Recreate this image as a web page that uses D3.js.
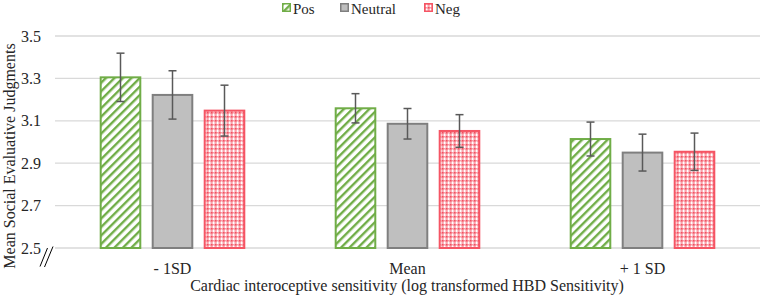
<!DOCTYPE html>
<html>
<head>
<meta charset="utf-8">
<script src="https://cdn.jsdelivr.net/npm/d3@7"></script>
<style>
  body { margin: 0; background: #fff; }
  svg text { font-family: 'Liberation Serif'; }
</style>
</head>
<body>
<div id="chart"></div>
<script>
// values
const categories = ['- 1SD', 'Mean', '+ 1 SD'];
const seriesNames = ['Pos', 'Neutral', 'Neg'];
const posValues = [3.305, 3.159, 3.014];
const posErrors = [0.114, 0.069, 0.080];
const neutralValues = [3.222, 3.086, 2.950];
const neutralErrors = [0.114, 0.072, 0.087];
const negValues = [3.148, 3.052, 2.954];
const negErrors = [0.120, 0.077, 0.088];
const yTicks = [2.5, 2.7, 2.9, 3.1, 3.3, 3.5];

const seriesValues = { Pos: posValues, Neutral: neutralValues, Neg: negValues };
const seriesErrors = { Pos: posErrors, Neutral: neutralErrors, Neg: negErrors };

const width = 760, height = 301;
const margin = { top: 36, right: 0, bottom: 53, left: 55 };

const svg = d3.select('#chart').append('svg')
    .attr('width', width)
    .attr('height', height)
    .style('font-family', 'Liberation Serif');

// fill patterns
const defs = svg.append('defs');

const stripe = defs.append('pattern')
    .attr('id', 'stripe')
    .attr('patternUnits', 'userSpaceOnUse')
    .attr('width', 6).attr('height', 6)
    .attr('patternTransform', 'rotate(45)');
stripe.append('rect').attr('width', 6).attr('height', 6).attr('fill', '#fff');
stripe.append('rect').attr('width', 2.4).attr('height', 6).attr('fill', '#70AD47');

const dots = defs.append('pattern')
    .attr('id', 'dots')
    .attr('patternUnits', 'userSpaceOnUse')
    .attr('width', 4).attr('height', 4);
dots.append('rect').attr('width', 4).attr('height', 4).attr('fill', '#F9A0AA');
dots.append('rect').attr('x', 0).attr('y', 0).attr('width', 1.5).attr('height', 1.5).attr('fill', '#F2505F');
dots.append('rect').attr('x', 2).attr('y', 1.5).attr('width', 1).attr('height', 2.5).attr('fill', '#fff');
dots.append('rect').attr('x', 1.5).attr('y', 2.5).attr('width', 2.5).attr('height', 1).attr('fill', '#fff');

const style = {
  Pos: { fill: 'url(#stripe)', stroke: '#70AD47' },
  Neutral: { fill: '#BFBFBF', stroke: '#7F7F7F' },
  Neg: { fill: 'url(#dots)', stroke: '#F55564' }
};

const x = d3.scaleBand()
    .domain(categories)
    .range([margin.left, width - margin.right]);

const groupWidth = 145.6;
const xSub = d3.scaleBand()
    .domain(seriesNames)
    .range([(x.bandwidth() - groupWidth) / 2, (x.bandwidth() + groupWidth) / 2])
    .paddingInner(0.2);

const y = d3.scaleLinear()
    .domain([2.5, 3.5])
    .range([height - margin.bottom, margin.top]);

// gridlines
svg.append('g')
  .selectAll('line')
  .data(yTicks)
  .join('line')
    .attr('x1', margin.left)
    .attr('x2', width - margin.right)
    .attr('y1', d => y(d))
    .attr('y2', d => y(d))
    .attr('stroke', '#D9D9D9')
    .attr('stroke-width', 1.3);

// y tick labels
svg.append('g')
  .selectAll('text')
  .data(yTicks)
  .join('text')
    .attr('x', 41)
    .attr('y', d => y(d))
    .attr('dy', '0.35em')
    .attr('text-anchor', 'end')
    .attr('font-size', 16)
    .attr('fill', '#262626')
    .text(d => d.toFixed(1));

// axis break marks
svg.append('path')
    .attr('d', 'M40,266.5L47.5,248M44.5,267L53,246.5')
    .attr('stroke', '#000')
    .attr('stroke-width', 1)
    .attr('fill', 'none');

// bars
const groups = svg.append('g')
  .selectAll('g')
  .data(categories)
  .join('g')
    .attr('transform', d => `translate(${x(d)},0)`);

groups.selectAll('rect')
  .data((d, i) => seriesNames.map(s => ({ s, v: seriesValues[s][i], e: seriesErrors[s][i] })))
  .join('rect')
    .attr('x', d => xSub(d.s) + 1)
    .attr('y', d => y(d.v))
    .attr('width', xSub.bandwidth() - 2)
    .attr('height', d => y(2.5) - y(d.v))
    .attr('fill', d => style[d.s].fill)
    .attr('stroke', d => style[d.s].stroke)
    .attr('stroke-width', 2);

// error bars
const err = groups.selectAll('g.err')
  .data((d, i) => seriesNames.map(s => ({ s, v: seriesValues[s][i], e: seriesErrors[s][i] })))
  .join('g')
    .attr('class', 'err')
    .attr('stroke', '#595959')
    .attr('stroke-width', 1.5);

err.append('line')
    .attr('x1', d => xSub(d.s) + xSub.bandwidth() / 2)
    .attr('x2', d => xSub(d.s) + xSub.bandwidth() / 2)
    .attr('y1', d => y(d.v + d.e))
    .attr('y2', d => y(d.v - d.e));

err.selectAll('line.cap')
  .data(d => [d.v + d.e, d.v - d.e].map(val => ({ s: d.s, val })))
  .join('line')
    .attr('class', 'cap')
    .attr('x1', d => xSub(d.s) + xSub.bandwidth() / 2 - 4)
    .attr('x2', d => xSub(d.s) + xSub.bandwidth() / 2 + 4)
    .attr('y1', d => y(d.val))
    .attr('y2', d => y(d.val));

// x category labels
svg.append('g')
  .selectAll('text')
  .data(categories)
  .join('text')
    .attr('x', d => x(d) + x.bandwidth() / 2)
    .attr('y', 274)
    .attr('text-anchor', 'middle')
    .attr('font-size', 16)
    .attr('fill', '#262626')
    .text(d => d);

// axis titles
svg.append('text')
    .attr('x', 407)
    .attr('y', 291)
    .attr('text-anchor', 'middle')
    .attr('font-size', 16)
    .attr('fill', '#262626')
    .text('Cardiac interoceptive sensitivity (log transformed HBD Sensitivity)');

svg.append('text')
    .attr('transform', 'translate(15,156) rotate(-90)')
    .attr('text-anchor', 'middle')
    .attr('font-size', 16)
    .attr('fill', '#262626')
    .text('Mean Social Evaluative Judgments');

// legend
const legendX = [282, 340, 424];
const legend = svg.append('g')
  .selectAll('g')
  .data(seriesNames)
  .join('g')
    .attr('transform', (d, i) => `translate(${legendX[i]},3)`);

legend.append('rect')
    .attr('x', 0.75).attr('y', 0.75)
    .attr('width', 7.5).attr('height', 7.5)
    .attr('fill', d => style[d].fill)
    .attr('stroke', d => style[d].stroke)
    .attr('stroke-width', 1.5);

legend.append('text')
    .attr('x', 11)
    .attr('y', 10.5)
    .attr('font-size', 15)
    .attr('fill', '#262626')
    .text(d => d);
</script>
</body>
</html>
